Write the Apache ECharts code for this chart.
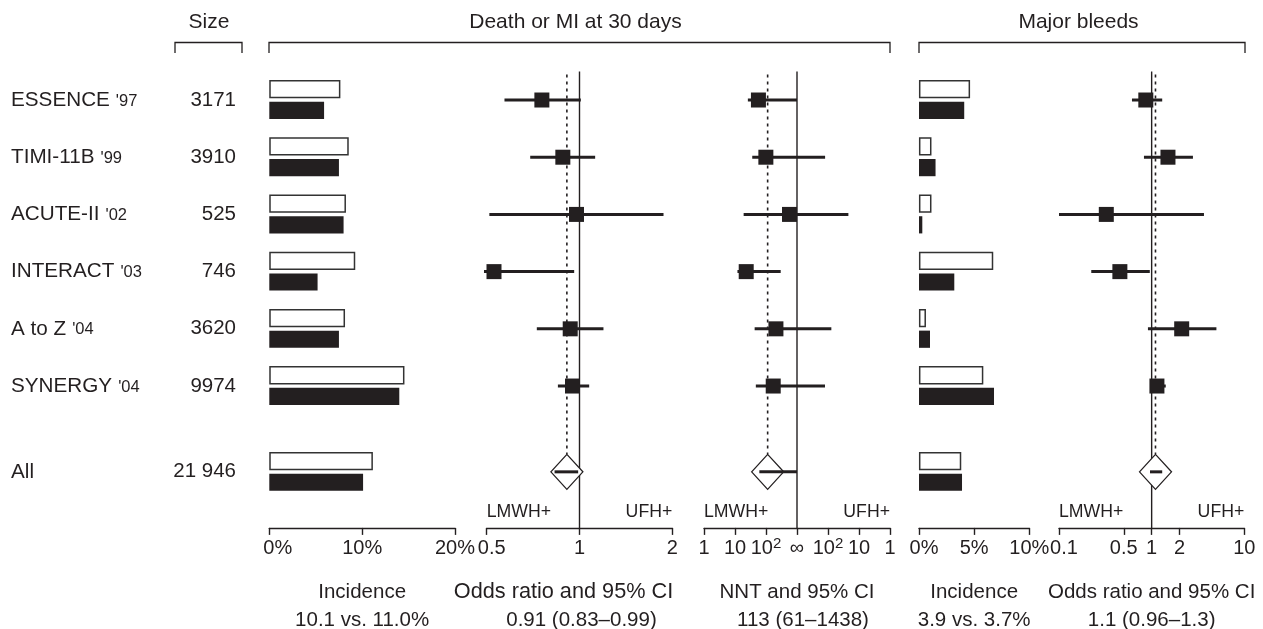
<!DOCTYPE html>
<html><head><meta charset="utf-8">
<script src="https://cdn.jsdelivr.net/npm/echarts@6/dist/echarts.min.js"></script>
<style>html,body{margin:0;padding:0;background:#fff}#c{width:1263px;height:629px}</style>
</head><body><div id="c"></div>
<script>
// ---------------- DATA ----------------
const studies = ['ESSENCE', 'TIMI-11B', 'ACUTE-II', 'INTERACT', 'A to Z', 'SYNERGY', 'All'];
const years = ["'97", "'99", "'02", "'03", "'04", "'04", ''];
const sizes = [3171, 3910, 525, 746, 3620, 9974, 21946];
// Death or MI at 30 days: incidence (%)
const dmiLmwh = [5.9, 7.5, 8.0, 5.2, 7.5, 14.0, 10.1];   // filled bars
const dmiUfh  = [7.5, 8.4, 8.1, 9.1, 8.0, 14.4, 11.0];   // open bars
// Death or MI odds ratio and 95% CI
const dmiOr   = [0.755, 0.883, 0.978, 0.528, 0.933, 0.949, 0.91];
const dmiOrLo = [0.571, 0.692, 0.51, 0.49, 0.727, 0.851, 0.83];
const dmiOrHi = [1.01, 1.124, 1.873, 0.961, 1.196, 1.075, 0.99];
// NNT (positive = LMWH benefit, negative = NNH favouring UFH, Infinity = no difference)
const nnt   = [57, 99, 574, 23, 209, 171, 113];
const nntLo = [26, 36, 19, 12, 43, 47, 61];
const nntHi = [Infinity, -124, -22, 298, -78, -125, 1438];
// Major bleeds incidence (%)
const bleedLmwh = [4.1, 1.5, 0.3, 3.2, 1.0, 6.8, 3.9];
const bleedUfh  = [4.5, 1.0, 1.0, 6.6, 0.5, 5.7, 3.7];
// Major bleeds odds ratio and 95% CI
const bleedOr   = [0.865, 1.50, 0.324, 0.454, 2.11, 1.14, 1.1];
const bleedOrLo = [0.613, 0.826, 0.1, 0.223, 0.912, 1.0, 0.96];
const bleedOrHi = [1.30, 2.79, 3.67, 0.955, 5.0, 1.42, 1.3];
// Tick labels
const dmiOrTicks = [0.5, 1, 2];
const bleedOrTicks = [0.1, 0.5, 1, 2, 10];
const nntTickLabels = ['1', '10', '10^2', '\u221e', '10^2', '10', '1'];
const favourLabels = ['LMWH+', 'UFH+'];
const headers = ['Size', 'Death or MI at 30 days', 'Major bleeds'];

// ---------------- LAYOUT ----------------
const FONT = '"Liberation Sans", Arial, Helvetica, sans-serif';
const INK = '#231f20';
const Y_MIN = -1.5, Y_MAX = 7.48, GRID_TOP = 14.2, GRID_H = 513.7;
const TICK_FS = 20, NAME_FS = 20.5, LABEL_MARGIN = 11;
const rowOf = i => (i < 6 ? i : 6.5);
const panels = [
  {left: 11, width: 225},
  {left: 269.3, width: 185.7},
  {left: 486.7, width: 185.6},
  {left: 704, width: 186},
  {left: 919, width: 110.3},
  {left: 1059, width: 185.3}
];
const fmtNum = v => String(Number(v.toPrecision(2)));
const nntPos = n => {
  if (!isFinite(n) || Math.abs(n) >= 1000) return 0;
  const m = 3 - Math.log10(Math.abs(n));
  return n > 0 ? -m : m;
};
const fmtSize = n => n >= 10000 ? String(n).replace(/\B(?=(\d{3})+(?!\d))/g, ' ') : String(n);
const last = a => a[a.length - 1];
const tickTxt = {color: INK, fontSize: TICK_FS, fontFamily: FONT};
// first (minimum) label nudged right as in the original
const minShift = (pad, fmt, minV) => v => (Math.abs(v - minV) < 1e-9 ? '{m' + pad + '|' + fmt(v) + '}' : fmt(v));

function axisBase(i, opts) {
  return {
    gridIndex: i, type: 'value', position: 'bottom',
    min: opts.min, max: opts.max, interval: opts.interval,
    axisLine: {show: true, onZero: false, lineStyle: {color: INK, width: 1.4}},
    axisTick: Object.assign({show: true, inside: false, length: 7, lineStyle: {color: INK, width: 1.4}},
      opts.ticks ? {customValues: opts.ticks} : {}),
    axisLabel: Object.assign({show: true, color: INK, fontSize: TICK_FS, fontFamily: FONT,
      margin: opts.margin != null ? opts.margin : LABEL_MARGIN,
      hideOverlap: false, showMinLabel: true, showMaxLabel: true, formatter: opts.formatter,
      rich: Object.assign({
        m17: Object.assign({padding: [0, 0, 0, 17]}, tickTxt),
        m10: Object.assign({padding: [0, 0, 0, 10]}, tickTxt)
      }, opts.rich || {})},
      opts.ticks ? {customValues: opts.ticks} : {}),
    splitLine: {show: false},
    name: opts.name, nameLocation: 'middle', nameGap: 50,
    nameTextStyle: Object.assign({color: INK, fontSize: NAME_FS, fontFamily: FONT, lineHeight: 28}, opts.nameStyle || {})
  };
}

const richName = (fa, pa, pb) => ({
  rich: {
    a: {color: INK, fontSize: fa, fontFamily: FONT, lineHeight: 28, padding: pa},
    b: {color: INK, fontSize: NAME_FS, fontFamily: FONT, lineHeight: 28, padding: pb}
  }
});

const nntFmt = v => {
  const s = nntTickLabels[Math.round(v) + 3];
  const parts = s.split('^');
  return parts.length === 2 ? '{b|' + parts[0] + '}{s|' + parts[1] + '}' : '{b|' + s + '}';
};

const xAxes = [
  {gridIndex: 0, type: 'value', min: 0, max: 1, show: false},
  axisBase(1, {min: 0, max: 20, interval: 10, formatter: minShift(17, v => v + '%', 0),
    name: 'Incidence\n' + last(dmiLmwh).toFixed(1) + ' vs. ' + last(dmiUfh).toFixed(1) + '%'}),
  axisBase(2, {min: -1, max: 1, ticks: dmiOrTicks.map(Math.log2),
    formatter: minShift(10, v => fmtNum(Math.pow(2, v)), -1),
    name: '{a|Odds ratio and 95% CI}\n{b|' + last(dmiOr) + ' (' + last(dmiOrLo) + '\u2013' + last(dmiOrHi) + ')}',
    nameStyle: richName(21.7, [0, 32, 0, 0], [0, 0, 0, 4])}),
  axisBase(3, {min: -3, max: 3, interval: 1, formatter: nntFmt, margin: LABEL_MARGIN - 3,
    rich: {b: Object.assign({padding: [3, 0, 0, 0], verticalAlign: 'bottom'}, tickTxt),
           s: {color: INK, fontSize: 15, fontFamily: FONT, verticalAlign: 'top'}},
    name: '{a|NNT and 95% CI}\n{b|' + last(nnt) + ' (' + last(nntLo) + '\u2013' + last(nntHi) + ')}',
    nameStyle: richName(NAME_FS, [0, 0, 0, 0], [0, 0, 0, 12])}),
  axisBase(4, {min: 0, max: 10, interval: 5, formatter: minShift(10, v => v + '%', 0),
    name: 'Incidence\n' + last(bleedLmwh).toFixed(1) + ' vs. ' + last(bleedUfh).toFixed(1) + '%'}),
  axisBase(5, {min: -1, max: 1, ticks: bleedOrTicks.map(Math.log10),
    formatter: minShift(10, v => fmtNum(Math.pow(10, v)), -1),
    name: 'Odds ratio and 95% CI\n' + last(bleedOr) + ' (' + last(bleedOrLo) + '\u2013' + last(bleedOrHi) + ')'})
];

// ---------------- SERIES ----------------
function labelSeries() {
  return {
    type: 'custom', xAxisIndex: 0, yAxisIndex: 0, clip: false, silent: true,
    data: studies.map((s, i) => [0, rowOf(i)]),
    renderItem(params, api) {
      const i = params.dataIndex;
      const p = api.coord([0, api.value(1)]);
      const q = api.coord([1, api.value(1)]);
      const txt = years[i] ? '{n|' + studies[i] + '}{y|' + years[i] + '}' : '{n|' + studies[i] + '}';
      return {type: 'group', children: [
        {type: 'text', style: {text: txt, x: p[0], y: p[1], textAlign: 'left', textVerticalAlign: 'middle',
          rich: {n: {fontSize: 20.7, fontFamily: FONT, fill: INK, verticalAlign: 'bottom'},
                 y: {fontSize: 16.5, fontFamily: FONT, fill: INK, verticalAlign: 'bottom', padding: [0, 0, 1, 6]}}}},
        {type: 'text', style: {text: fmtSize(sizes[i]), x: q[0], y: q[1], textAlign: 'right', textVerticalAlign: 'middle',
          fontSize: 20.5, fontFamily: FONT, fill: INK}}
      ]};
    }
  };
}

function barSeries(ax, open, filled) {
  const data = [];
  open.forEach((v, i) => { data.push([v, rowOf(i), 0]); data.push([filled[i], rowOf(i), 1]); });
  return {
    type: 'custom', xAxisIndex: ax, yAxisIndex: ax, clip: false, silent: true, data,
    renderItem(params, api) {
      const row = api.value(1);
      const a = api.coord([0, row]);
      const b = api.coord([api.value(0), row]);
      if (api.value(2) === 0) {
        return {type: 'rect', shape: {x: a[0] + 0.7, y: a[1] - 19.2, width: b[0] - a[0], height: 16.8},
          style: {fill: '#fff', stroke: '#333', lineWidth: 1.5}};
      }
      return {type: 'rect', shape: {x: a[0], y: a[1] + 1.8, width: b[0] - a[0], height: 17.2},
        style: {fill: INK}};
    }
  };
}

function refLineSeries(ax, nullX, overallX) {
  return {
    type: 'custom', xAxisIndex: ax, yAxisIndex: ax, clip: false, silent: true, z: 1,
    data: [[nullX, 0], [overallX, 1]],
    renderItem(params, api) {
      const dotted = api.value(1) === 1;
      const t = api.coord([api.value(0), -0.5]);
      const b = api.coord([api.value(0), dotted ? rowOf(6) - 0.31 : Y_MAX]);
      return {type: 'line', shape: {x1: t[0], y1: t[1] + (dotted ? 3 : 0), x2: t[0], y2: b[1]},
        style: {stroke: INK, lineWidth: dotted ? 1.6 : 1.4, lineDash: dotted ? [3, 4] : null}};
    }
  };
}

function forestSeries(ax, center, lo, hi, tf) {
  const data = center.map((c, i) => [tf(c), tf(lo[i]), tf(hi[i]), rowOf(i), i === center.length - 1 ? 1 : 0]);
  return {
    type: 'custom', xAxisIndex: ax, yAxisIndex: ax, clip: false, silent: true, z: 5, data,
    renderItem(params, api) {
      const row = api.value(3);
      const c = api.coord([api.value(0), row]);
      const a = api.coord([api.value(1), row]);
      const b = api.coord([api.value(2), row]);
      const line = {type: 'line', shape: {x1: a[0], y1: c[1], x2: b[0], y2: c[1]}, style: {stroke: INK, lineWidth: 3}};
      if (api.value(4) === 1) {
        const w = 16, h = 17.5;
        return {type: 'group', children: [
          {type: 'polygon', shape: {points: [[c[0] - w, c[1]], [c[0], c[1] - h], [c[0] + w, c[1]], [c[0], c[1] + h]]},
            style: {fill: '#fff', stroke: INK, lineWidth: 1.3}},
          line]};
      }
      const s = 15;
      return {type: 'group', children: [line,
        {type: 'rect', shape: {x: c[0] - s / 2, y: c[1] - s / 2, width: s, height: s}, style: {fill: INK}}]};
    }
  };
}

function favourSeries(ax, xmin, xmax) {
  return {
    type: 'custom', xAxisIndex: ax, yAxisIndex: ax, clip: false, silent: true,
    data: [[xmin, 7.2], [xmax, 7.2]],
    renderItem(params, api) {
      const i = params.dataIndex;
      const p = api.coord([api.value(0), api.value(1)]);
      return {type: 'text', style: {text: favourLabels[i], x: p[0], y: p[1],
        textAlign: i === 0 ? 'left' : 'right', textVerticalAlign: 'middle',
        fontSize: 17.7, fontFamily: FONT, fill: INK}};
    }
  };
}

// ---------------- HEADERS / BRACKETS ----------------
const bracket = (x1, x2) => ({type: 'polyline', silent: true,
  shape: {points: [[x1, 53], [x1, 42.5], [x2, 42.5], [x2, 53]]},
  style: {stroke: INK, lineWidth: 1.3, fill: null}});
const header = (text, x) => ({type: 'text', silent: true,
  style: {text, x, y: 22, textAlign: 'center', textVerticalAlign: 'middle', fontSize: 21, fontFamily: FONT, fill: INK}});

const option = {
  animation: false,
  backgroundColor: '#fff',
  grid: panels.map(p => ({left: p.left, width: p.width, top: GRID_TOP, height: GRID_H, containLabel: false, outerBoundsMode: 'none'})),
  xAxis: xAxes,
  yAxis: panels.map((p, i) => ({gridIndex: i, type: 'value', min: Y_MIN, max: Y_MAX, inverse: true, show: false})),
  series: [
    labelSeries(),
    barSeries(1, dmiUfh, dmiLmwh),
    barSeries(4, bleedUfh, bleedLmwh),
    refLineSeries(2, 0, Math.log2(last(dmiOr))),
    refLineSeries(3, nntPos(Infinity), nntPos(last(nnt))),
    refLineSeries(5, 0, Math.log10(last(bleedOr))),
    forestSeries(2, dmiOr, dmiOrLo, dmiOrHi, Math.log2),
    forestSeries(3, nnt, nntLo, nntHi, nntPos),
    forestSeries(5, bleedOr, bleedOrLo, bleedOrHi, Math.log10),
    favourSeries(2, -1, 1),
    favourSeries(3, -3, 3),
    favourSeries(5, -1, 1)
  ],
  graphic: [
    bracket(175, 242), bracket(269, 890), bracket(919, 1245),
    header(headers[0], 209), header(headers[1], 575.5), header(headers[2], 1078.5)
  ]
};

const chart = echarts.init(document.getElementById('c'), null, {renderer: 'canvas'});
chart.setOption(option);
</script></body></html>
